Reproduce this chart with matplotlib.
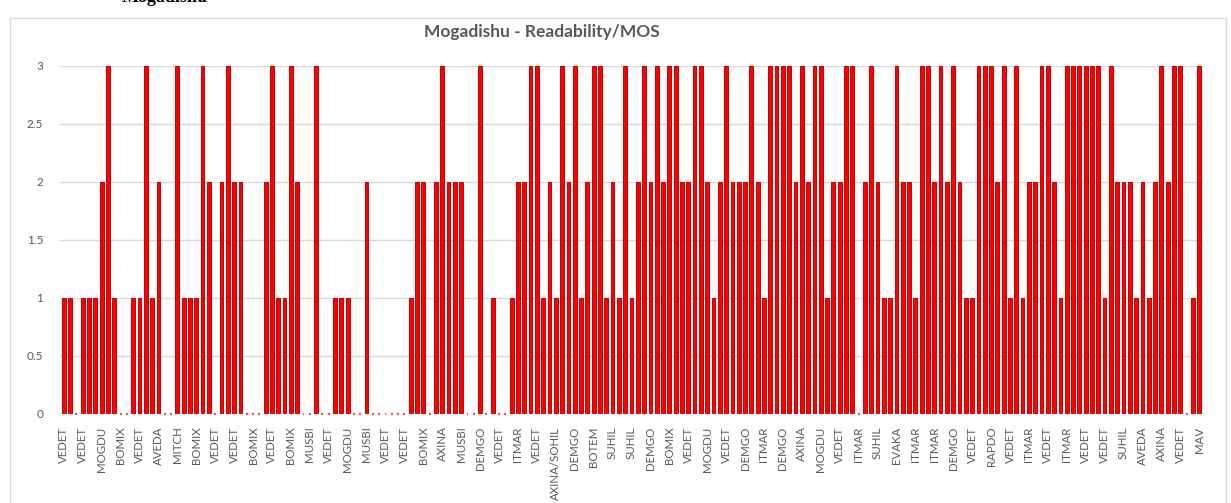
import matplotlib
matplotlib.use("Agg")
import matplotlib.pyplot as plt
from matplotlib.patches import Rectangle

title = "Mogadishu - Readability/MOS"

values = [1, 1, 0, 1, 1, 1, 2, 3, 1, 0, 0, 1, 1, 3, 1, 2, 0, 0, 3, 1,
          1, 1, 3, 2, 0, 2, 3, 2, 2, 0, 0, 0, 2, 3, 1, 1, 3, 2, 0, 0,
          3, 0, 0, 1, 1, 1, 0, 0, 2, 0, 0, 0, 0, 0, 0, 1, 2, 2, 0, 2,
          3, 2, 2, 2, 0, 0, 3, 0, 1, 0, 0, 1, 2, 2, 3, 3, 1, 2, 1, 3,
          2, 3, 1, 2, 3, 3, 1, 2, 1, 3, 1, 2, 3, 2, 3, 2, 3, 3, 2, 2,
          3, 3, 2, 1, 2, 3, 2, 2, 2, 3, 2, 1, 3, 3, 3, 3, 2, 3, 2, 3,
          3, 1, 2, 2, 3, 3, 0, 2, 3, 2, 1, 1, 3, 2, 2, 1, 3, 3, 2, 3,
          2, 3, 2, 1, 1, 3, 3, 3, 2, 3, 1, 3, 1, 2, 2, 3, 3, 2, 1, 3,
          3, 3, 3, 3, 3, 1, 3, 2, 2, 2, 1, 2, 1, 2, 3, 2, 3, 3, 0, 1,
          3]

tick_labels = ["VEDET", "VEDET", "MOGDU", "BOMIX", "VEDET", "AVEDA", "MITCH",
               "BOMIX", "VEDET", "VEDET", "BOMIX", "VEDET", "BOMIX", "MUSBI",
               "VEDET", "MOGDU", "MUSBI", "VEDET", "VEDET", "BOMIX", "AXINA",
               "MUSBI", "DEMGO", "VEDET", "ITMAR", "VEDET", "AXINA/SOHIL",
               "DEMGO", "BOTEM", "SUHIL", "SUHIL", "DEMGO", "BOMIX", "VEDET",
               "MOGDU", "VEDET", "DEMGO", "ITMAR", "DEMGO", "AXINA", "MOGDU",
               "VEDET", "ITMAR", "SUHIL", "EVAKA", "ITMAR", "ITMAR", "DEMGO",
               "VEDET", "RAPDO", "VEDET", "ITMAR", "VEDET", "ITMAR", "VEDET",
               "VEDET", "SUHIL", "AVEDA", "AXINA", "VEDET", "MAV"]
label_step = 3
y_ticks = [0, 0.5, 1, 1.5, 2, 2.5, 3]

plt.rcParams['font.family'] = ['Lato', 'DejaVu Sans']

W, H = 1231, 503
fig = plt.figure(figsize=(W / 100, H / 100), dpi=100)

# outer chart border
fig.patches.append(Rectangle((10 / W, -0.01), (1226 - 10) / W, (1 - 18 / H) + 0.01,
                             transform=fig.transFigure, fill=False,
                             edgecolor='#D9D9D9', linewidth=1.0))

# document heading above the chart, almost entirely cut off at the top edge
fig.text(122 / W, 1 - 1.5 / H, "Mogadishu", family='Liberation Serif',
         fontweight='bold', fontsize=13, color='black', va='baseline')

ax = fig.add_axes([60 / W, 1 - 414 / H, (1203 - 60) / W, (414 - 66) / H])

x = list(range(len(values)))
ax.bar(x, values, width=0.6, color='#FF0000', edgecolor='#C80000',
       linewidth=0.7, zorder=3)

# zero-valued bars appear as short red dashes on the baseline
zx = [i for i, v in zip(x, values) if v == 0]
ax.hlines([0] * len(zx), [i - 0.15 for i in zx], [i + 0.15 for i in zx],
          colors='#FF5050', linewidth=1.6, zorder=4, clip_on=False)

ax.set_xlim(-0.6, len(values) - 0.4)
ax.set_ylim(0, 3)
ax.set_yticks(y_ticks)
ax.set_yticklabels([("%g" % v) for v in y_ticks])
ax.set_xticks(list(range(0, len(values), label_step)))
ax.set_xticklabels(tick_labels, rotation=90)
ax.tick_params(axis='both', length=0, colors='#595959')
ax.tick_params(axis='y', pad=12, labelsize=8.5)
ax.tick_params(axis='x', pad=9, labelsize=8.3)

for s in ax.spines.values():
    s.set_visible(False)
ax.yaxis.grid(True, color='#D9D9D9', linewidth=1.0, zorder=0)
ax.set_axisbelow(True)

fig.text(542 / W, 1 - 32 / H, title, ha='center', va='center',
         fontsize=12.5, fontweight='bold', color='#595959')

fig.savefig("out.png", dpi=100)
